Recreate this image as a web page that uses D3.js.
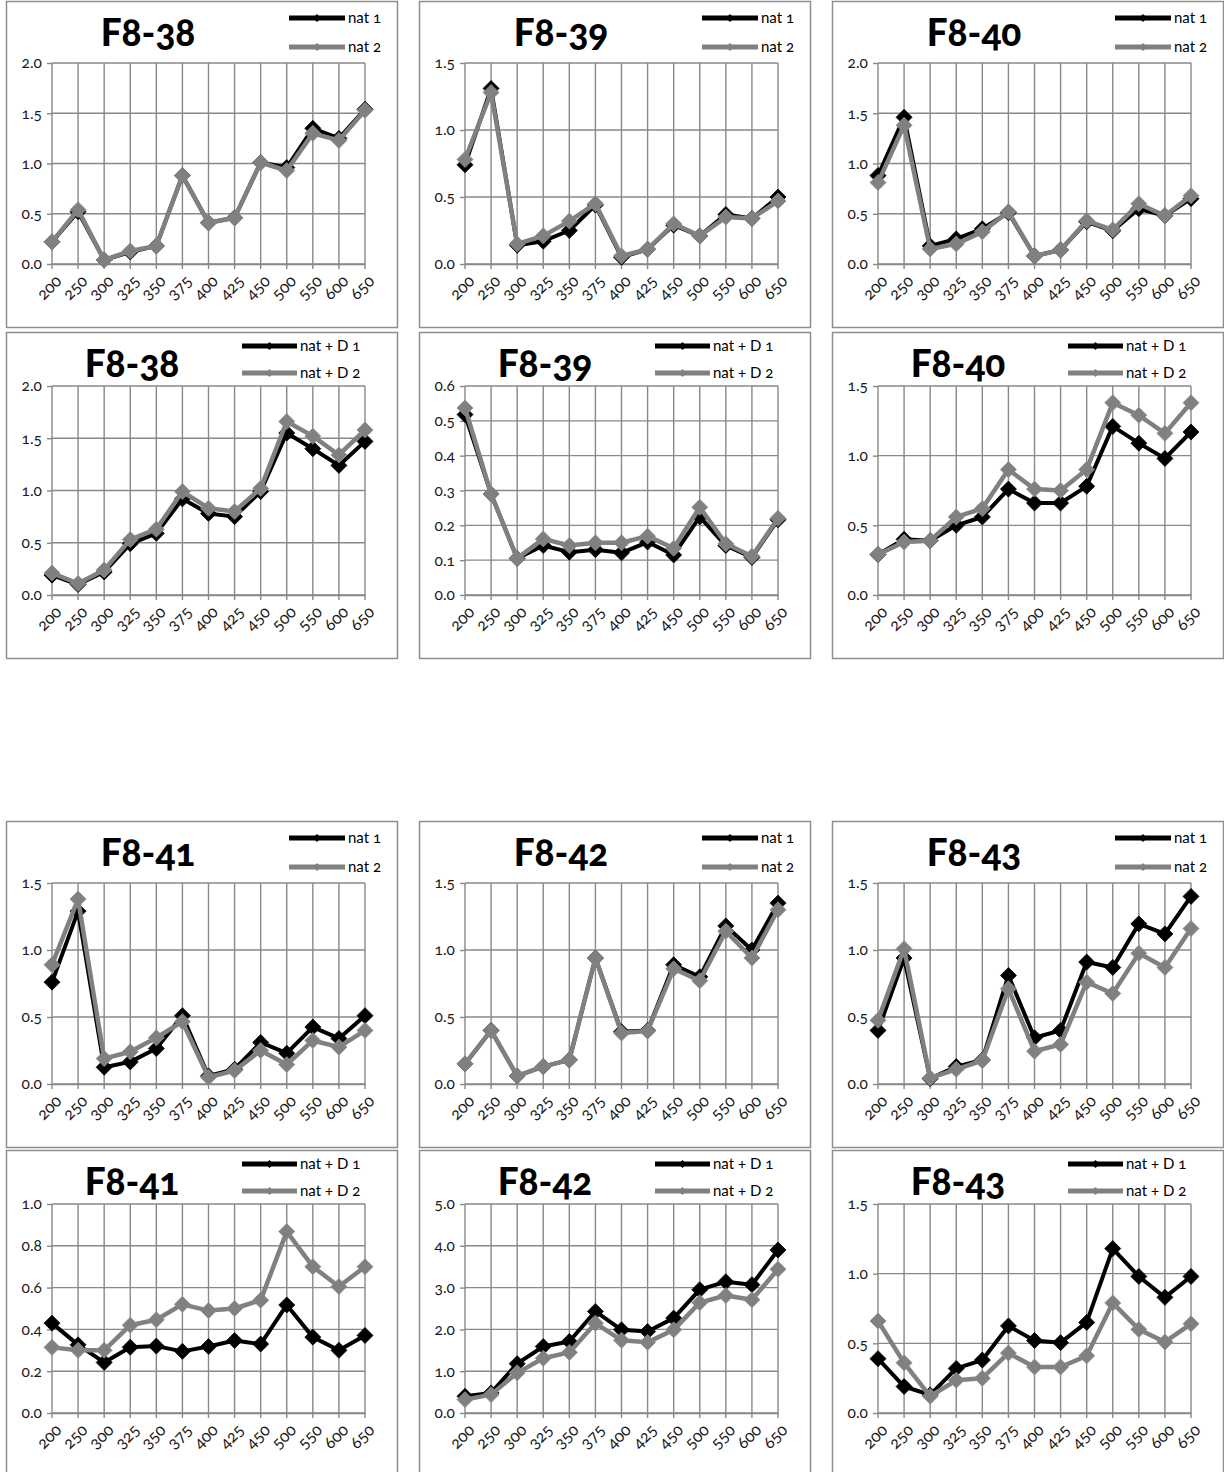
<!DOCTYPE html>
<html><head><meta charset="utf-8">
<script src="https://cdn.jsdelivr.net/npm/d3@7/dist/d3.min.js"></script>
<style>
body{margin:0;background:#fff;}
svg text{font-family:Lato,"Open Sans",sans-serif;font-variant-numeric:oldstyle-nums;font-feature-settings:"onum" 1;}
</style></head><body>
<svg id="c" width="1224" height="1472"></svg>
<script>
// ---------- data ----------
const categories = ["200","250","300","325","350","375","400","425","450","500","550","600","650"];

const legendNat = ["nat 1","nat 2"];
const legendNatD = ["nat + D 1","nat + D 2"];

const ticks20 = [0,0.5,1.0,1.5,2.0];
const ticks15 = [0,0.5,1.0,1.5];
const ticks06 = [0,0.1,0.2,0.3,0.4,0.5,0.6];
const ticks10 = [0,0.2,0.4,0.6,0.8,1.0];
const ticks50 = [0,1,2,3,4,5];

const f838_nat1 = [0.22,0.52,0.04,0.12,0.18,0.88,0.41,0.46,1.01,0.96,1.35,1.25,1.54];
const f838_nat2 = [0.22,0.54,0.04,0.13,0.18,0.88,0.41,0.46,1.01,0.93,1.30,1.23,1.53];
const f839_nat1 = [0.74,1.31,0.14,0.17,0.25,0.44,0.05,0.11,0.29,0.21,0.37,0.34,0.50];
const f839_nat2 = [0.78,1.28,0.15,0.21,0.32,0.45,0.06,0.11,0.30,0.21,0.35,0.34,0.47];
const f840_nat1 = [0.88,1.46,0.18,0.25,0.35,0.51,0.08,0.14,0.42,0.33,0.55,0.48,0.65];
const f840_nat2 = [0.81,1.38,0.15,0.20,0.32,0.52,0.08,0.14,0.43,0.34,0.60,0.48,0.68];

const f838_natD1 = [0.19,0.10,0.22,0.49,0.59,0.92,0.78,0.75,0.99,1.55,1.40,1.24,1.47];
const f838_natD2 = [0.21,0.11,0.24,0.53,0.63,0.99,0.83,0.80,1.02,1.66,1.52,1.34,1.58];
const f839_natD1 = [0.518,0.29,0.105,0.142,0.123,0.13,0.121,0.152,0.115,0.224,0.142,0.108,0.216];
const f839_natD2 = [0.537,0.29,0.105,0.161,0.142,0.15,0.15,0.169,0.134,0.252,0.147,0.111,0.22];
const f840_natD1 = [0.29,0.40,0.39,0.50,0.56,0.76,0.66,0.66,0.78,1.21,1.09,0.98,1.17];
const f840_natD2 = [0.29,0.38,0.39,0.56,0.62,0.90,0.76,0.75,0.90,1.38,1.29,1.16,1.38];

const f841_nat1 = [0.76,1.29,0.125,0.165,0.265,0.51,0.06,0.11,0.31,0.23,0.425,0.34,0.51];
const f841_nat2 = [0.89,1.38,0.19,0.24,0.345,0.465,0.05,0.10,0.25,0.145,0.325,0.275,0.40];
const f842_nat1 = [0.15,0.40,0.06,0.13,0.18,0.94,0.39,0.40,0.89,0.80,1.18,1.00,1.35];
const f842_nat2 = [0.15,0.40,0.06,0.13,0.18,0.94,0.38,0.395,0.86,0.77,1.14,0.94,1.30];
const f843_nat1 = [0.40,0.94,0.04,0.13,0.18,0.81,0.345,0.40,0.91,0.87,1.195,1.12,1.40];
const f843_nat2 = [0.475,1.01,0.045,0.11,0.175,0.71,0.245,0.295,0.76,0.675,0.975,0.87,1.16];

const f841_natD1 = [0.43,0.326,0.242,0.315,0.32,0.295,0.318,0.347,0.33,0.517,0.363,0.30,0.371];
const f841_natD2 = [0.314,0.30,0.30,0.42,0.446,0.52,0.49,0.50,0.54,0.868,0.70,0.605,0.70];
const f842_natD1 = [0.40,0.48,1.18,1.59,1.71,2.43,1.99,1.95,2.27,2.95,3.14,3.07,3.90];
const f842_natD2 = [0.32,0.44,0.96,1.31,1.45,2.15,1.74,1.69,1.99,2.64,2.81,2.71,3.44];
const f843_natD1 = [0.39,0.19,0.13,0.32,0.38,0.625,0.52,0.505,0.65,1.18,0.98,0.83,0.98];
const f843_natD2 = [0.66,0.36,0.12,0.235,0.25,0.43,0.33,0.33,0.41,0.79,0.60,0.51,0.64];

const titles = ["F8-38","F8-39","F8-40","F8-38","F8-39","F8-40","F8-41","F8-42","F8-43","F8-41","F8-42","F8-43"];

const panels = [
  {title:titles[0], legend:legendNat,  s1:f838_nat1,  s2:f838_nat2,  ticks:ticks20},
  {title:titles[1], legend:legendNat,  s1:f839_nat1,  s2:f839_nat2,  ticks:ticks15},
  {title:titles[2], legend:legendNat,  s1:f840_nat1,  s2:f840_nat2,  ticks:ticks20},
  {title:titles[3], legend:legendNatD, s1:f838_natD1, s2:f838_natD2, ticks:ticks20},
  {title:titles[4], legend:legendNatD, s1:f839_natD1, s2:f839_natD2, ticks:ticks06},
  {title:titles[5], legend:legendNatD, s1:f840_natD1, s2:f840_natD2, ticks:ticks15},
  {title:titles[6], legend:legendNat,  s1:f841_nat1,  s2:f841_nat2,  ticks:ticks15},
  {title:titles[7], legend:legendNat,  s1:f842_nat1,  s2:f842_nat2,  ticks:ticks15},
  {title:titles[8], legend:legendNat,  s1:f843_nat1,  s2:f843_nat2,  ticks:ticks15},
  {title:titles[9], legend:legendNatD, s1:f841_natD1, s2:f841_natD2, ticks:ticks10},
  {title:titles[10],legend:legendNatD, s1:f842_natD1, s2:f842_natD2, ticks:ticks50},
  {title:titles[11],legend:legendNatD, s1:f843_natD1, s2:f843_natD2, ticks:ticks15}
];

// ---------- layout ----------
const svg = d3.select("#c");
const colLeft = [6, 419, 832];
const rowTop = [1, 332, 821, 1150];
const boxW = 391, boxH = 326;
const C1 = "#000000", C2 = "#808080", GRID = "#888888", BORDER = "#8e8e8e";

function diamond(r){ return `M0,${-r}L${r},0L0,${r}L${-r},0Z`; }

panels.forEach((p, i) => {
  const row = Math.floor(i / 3), col = i % 3;
  const isD = p.legend === legendNatD;
  const bx = colLeft[col], by = rowTop[row];
  const g = svg.append("g").attr("transform", `translate(${bx},${by})`);

  g.append("rect").attr("x",0.5).attr("y",0.5).attr("width",boxW).attr("height",boxH)
    .attr("fill","#fff").attr("stroke",BORDER).attr("stroke-width",1.5);

  const pl = 46, pt = isD ? 54 : 62;
  const pw = 313, ph = isD ? 209 : 201;
  const x = d3.scalePoint().domain(categories).range([0, pw]).padding(0);
  const y = d3.scaleLinear().domain([0, d3.max(p.ticks)]).range([ph, 0]);

  const plot = g.append("g").attr("transform", `translate(${pl},${pt})`);

  // horizontal grid + y ticks
  const ya = d3.axisLeft(y).tickValues(p.ticks).tickSize(5).tickFormat(d3.format(".1f")).tickPadding(5);
  const yg = plot.append("g").call(ya);
  yg.select(".domain").remove();
  yg.selectAll("line").attr("stroke",GRID).attr("stroke-width",1.4);
  yg.selectAll("text").attr("fill","#1a1a1a").style("font-size","15.5px");
  plot.append("g").selectAll("line").data(p.ticks).join("line")
    .attr("x1",0).attr("x2",pw).attr("y1",d=>y(d)).attr("y2",d=>y(d))
    .attr("stroke",GRID).attr("stroke-width",1.4);

  // vertical grid
  plot.append("g").selectAll("line").data(categories).join("line")
    .attr("x1",d=>x(d)).attr("x2",d=>x(d)).attr("y1",0).attr("y2",ph+5)
    .attr("stroke",GRID).attr("stroke-width",1.4);

  // x axis labels
  const xa = d3.axisBottom(x).tickSize(0).tickPadding(0);
  const xg = plot.append("g").attr("transform",`translate(0,${ph})`).call(xa);
  xg.select(".domain").attr("stroke",GRID).attr("stroke-width",1.4);
  xg.selectAll("text")
    .attr("fill","#1a1a1a").style("font-size","16.5px")
    .attr("text-anchor","end").attr("dy","0.35em")
    .attr("transform","translate(6,14) rotate(-45)");

  const line = d3.line().x((d,j)=>x(categories[j])).y(d=>y(d));
  [[p.s1,C1,4],[p.s2,C2,4.5]].forEach(([s,c,w])=>{
    plot.append("path").datum(s).attr("d",line).attr("fill","none")
      .attr("stroke",c).attr("stroke-width",w).attr("stroke-linejoin","round");
    plot.append("g").selectAll("path").data(s).join("path")
      .attr("transform",(d,j)=>`translate(${x(categories[j])},${y(d)})`)
      .attr("d",diamond(8)).attr("fill",c)
      .attr("stroke", c===C2 ? "#8c8c8c" : "#000").attr("stroke-width",0.8);
  });

  // title
  g.append("text").attr("x", isD ? 126 : 142).attr("y", 45)
    .attr("text-anchor","middle").style("font-size","37px").style("font-weight","900")
    .attr("fill","#000").text(p.title);

  // legend
  const lx1 = isD ? 236 : 283, lx2 = isD ? 291 : 339;
  const ly = isD ? [14, 41] : [17, 46];
  [[C1,p.legend[0]],[C2,p.legend[1]]].forEach(([c,t],k)=>{
    g.append("line").attr("x1",lx1).attr("x2",lx2).attr("y1",ly[k]).attr("y2",ly[k])
      .attr("stroke",c).attr("stroke-width",5);
    g.append("path").attr("transform",`translate(${(lx1+lx2)/2},${ly[k]})`)
      .attr("d",diamond(4)).attr("fill",c);
    g.append("text").attr("x",lx2+3).attr("y",ly[k]).attr("dy","0.35em")
      .style("font-size","15px").attr("fill","#000").text(t);
  });
});
</script>
</body></html>
